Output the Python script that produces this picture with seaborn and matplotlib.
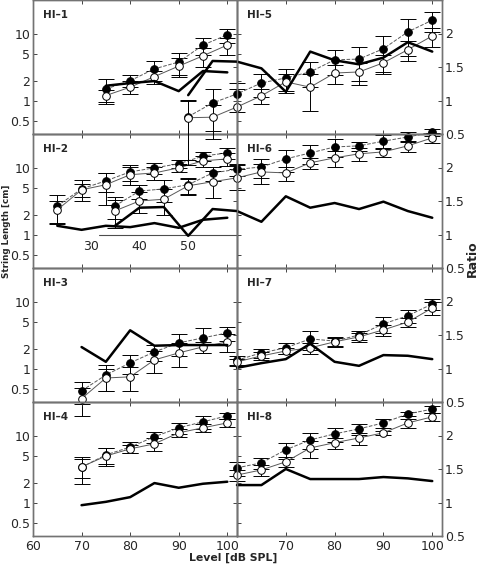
import matplotlib
matplotlib.use("Agg")
import matplotlib.pyplot as plt
from matplotlib.ticker import FixedLocator, FixedFormatter, NullLocator
import seaborn as sns

# levels (dB SPL) per panel
hi1_level = [75, 80, 85, 90, 95, 100]
hi2_level = [65, 70, 75, 80, 85, 90, 95, 100]
hi3_level = [70, 75, 80, 85, 90, 95, 100]
hi4_level = [70, 75, 80, 85, 90, 95, 100]
hi5_level = [50, 55, 60, 65, 70, 75, 80, 85, 90, 95, 100]
hi6_level = [35, 40, 45, 50, 55, 60, 65, 70, 75, 80, 85, 90, 95, 100]
hi7_level = [60, 65, 70, 75, 80, 85, 90, 95, 100]
hi8_level = [60, 65, 70, 75, 80, 85, 90, 95, 100]

# string length, filled symbols (dashed)
hi1_filled = [1.5, 2.0, 3.0, 3.8, 6.8, 9.7]
hi2_filled = [2.7, 4.85, 6.4, 8.7, 10, 11.5, 15, 16.7]
hi3_filled = [0.47, 0.81, 1.23, 1.79, 2.44, 2.9, 3.44]
hi4_filled = [3.4, 5.2, 6.8, 9.7, 13.2, 16.2, 19.9]
hi5_filled = [0.58, 0.93, 1.27, 1.85, 2.2, 2.7, 4.1, 4.2, 6.0, 10.7, 16]
hi6_filled = [2.7, 4.5, 4.85, 5.6, 8.4, 9.5, 10.3, 13.6, 16.7, 20.5, 21.3, 25, 28.9, 34]
hi7_filled = [1.35, 1.73, 2.06, 2.8, 2.6, 3.2, 4.7, 6.2, 9.3]
hi8_filled = [3.33, 3.95, 6.2, 8.7, 10.7, 12.7, 15.6, 21.3, 25]

hi1_filled_err = [0.6, 0.4, 1.0, 1.4, 2.0, 2.3]
hi2_filled_err = [1.25, 1.7, 2.0, 2.3, 1.9, 1.7, 2.3, 3.2]
hi3_filled_err = [0.17, 0.34, 0.4, 0.5, 0.9, 1.2, 0.8]
hi4_filled_err = [1.5, 1.4, 1.3, 1.8, 2.4, 3.7, 2.1]
hi5_filled_err = [0.45, 0.57, 0.6, 0.7, 0.8, 1.1, 1.7, 2.2, 3.3, 6.0, 5.4]
hi6_filled_err = [1.0, 1.1, 1.8, 1.5, 2.0, 2.0, 3.3, 5.0, 5.3, 6.0, 3.2, 5.6, 5.0, 4.0]
hi7_filled_err = [0.2, 0.26, 0.38, 0.9, 0.4, 0.5, 1.3, 1.4, 1.8]
hi8_filled_err = [0.8, 0.75, 1.7, 2.4, 2.5, 2.3, 2.4, 1.4, 3.0]

# string length, open symbols (solid)
hi1_open = [1.2, 1.6, 2.3, 3.3, 4.7, 6.8]
hi2_open = [2.36, 4.7, 5.6, 7.9, 8.4, 10, 12.7, 13.6]
hi3_open = [0.36, 0.73, 0.76, 1.36, 1.73, 2.13, 2.53]
hi4_open = [3.44, 5.0, 6.4, 7.6, 11.1, 13.2, 15.6]
hi5_open = [0.56, 0.57, 0.81, 1.19, 1.92, 1.6, 2.6, 2.7, 3.7, 5.8, 9.3]
hi6_open = [2.28, 3.2, 3.4, 5.4, 6.2, 7.1, 8.7, 8.4, 11.9, 14.1, 16.2, 17.3, 21.3, 28]
hi7_open = [1.27, 1.56, 1.85, 2.06, 2.53, 3.0, 3.82, 5.0, 8.1]
hi8_open = [2.6, 3.1, 4.1, 6.6, 7.9, 9.3, 11.1, 15.6, 19.2]

hi1_open_err = [0.25, 0.35, 0.5, 1.0, 1.5, 2.0]
hi2_open_err = [0.85, 1.0, 2.8, 2.3, 1.8, 1.3, 2.4, 2.9]
hi3_open_err = [0.16, 0.26, 0.3, 0.5, 0.66, 0.4, 0.74]
hi4_open_err = [1.1, 1.5, 0.8, 1.65, 1.4, 1.7, 2.0]
hi5_open_err = [0.45, 0.3, 0.7, 0.3, 0.6, 0.9, 0.8, 1.0, 1.2, 1.9, 3.0]
hi6_open_err = [1.0, 1.1, 1.45, 1.45, 2.7, 2.4, 2.9, 2.0, 2.2, 3.8, 3.5, 2.6, 4.0, 4.7]
hi7_open_err = [0.15, 0.2, 0.2, 0.4, 0.4, 0.45, 0.7, 0.8, 1.7]
hi8_open_err = [0.5, 0.6, 0.7, 1.9, 1.5, 1.9, 0.8, 2.4, 2.5]

# ratio (thick line, right axis)
hi1_ratio = [1.22, 1.26, 1.29, 1.14, 1.44, 1.42]
hi2_ratio = [1.13, 1.07, 1.13, 1.11, 1.17, 1.10, 1.22, 1.25]
hi3_ratio = [1.32, 1.10, 1.57, 1.34, 1.35, 1.35, 1.35]
hi4_ratio = [0.96, 1.01, 1.08, 1.29, 1.22, 1.28, 1.31]
hi5_ratio = [1.08, 1.59, 1.58, 1.48, 1.13, 1.73, 1.6, 1.54, 1.64, 1.87, 1.73]
hi6_ratio = [1.13, 1.40, 1.41, 0.98, 1.38, 1.35, 1.19, 1.57, 1.40, 1.47, 1.38, 1.49, 1.35, 1.25]
hi7_ratio = [1.01, 1.08, 1.14, 1.37, 1.10, 1.04, 1.20, 1.19, 1.14]
hi8_ratio = [1.26, 1.26, 1.50, 1.35, 1.35, 1.35, 1.38, 1.36, 1.32]

names = ["HI\u20131", "HI\u20132", "HI\u20133", "HI\u20134",
         "HI\u20135", "HI\u20136", "HI\u20137", "HI\u20138"]

log_ticks = [0.5, 1, 2, 5, 10]
log_labels = ["0.5", "1", "2", "5", "10"]
ratio_ticks = [0.5, 1, 1.5, 2]
ratio_labels = ["0.5", "1", "1.5", "2"]
level_ticks = [60, 70, 80, 90, 100]

panels = [
    (hi1_level, hi1_filled, hi1_filled_err, hi1_open, hi1_open_err, hi1_ratio),
    (hi2_level, hi2_filled, hi2_filled_err, hi2_open, hi2_open_err, hi2_ratio),
    (hi3_level, hi3_filled, hi3_filled_err, hi3_open, hi3_open_err, hi3_ratio),
    (hi4_level, hi4_filled, hi4_filled_err, hi4_open, hi4_open_err, hi4_ratio),
    (hi5_level, hi5_filled, hi5_filled_err, hi5_open, hi5_open_err, hi5_ratio),
    (hi6_level, hi6_filled, hi6_filled_err, hi6_open, hi6_open_err, hi6_ratio),
    (hi7_level, hi7_filled, hi7_filled_err, hi7_open, hi7_open_err, hi7_ratio),
    (hi8_level, hi8_filled, hi8_filled_err, hi8_open, hi8_open_err, hi8_ratio),
]

sns.set_style("ticks")
plt.rcParams["font.family"] = ["DejaVu Sans"]
plt.rcParams.update({
    "xtick.direction": "in", "ytick.direction": "in",
    "xtick.major.size": 3, "ytick.major.size": 3,
    "xtick.major.width": 0.6, "ytick.major.width": 0.6,
    "xtick.major.pad": 3, "ytick.major.pad": 2,
    "axes.linewidth": 1.0,
})

W, H = 480, 566
fig = plt.figure(figsize=(W / 100, H / 100), dpi=100)

def box(x0, y0, w, h):
    return [x0 / W, 1 - (y0 + h) / H, w / W, h / H]

col_x = [33, 237]
col_w = [204, 205]
row_y = [0, 134, 268, 402]
row_h = 134

axes = []
for i, (lev, fil, fil_e, opn, opn_e, rat) in enumerate(panels):
    col, row = i // 4, i % 4
    ax = fig.add_axes(box(col_x[col], row_y[row], col_w[col], row_h))
    ax.patch.set_visible(False)
    ax.set_yscale("log")

    for vals, errs in [(fil, fil_e), (opn, opn_e)]:
        eb = ax.errorbar(lev, vals, yerr=errs, fmt="none", ecolor="k",
                         elinewidth=0.7, capsize=5.5, capthick=0.7)
        for a in eb.get_children():
            a.set_clip_on(False)

    sns.lineplot(x=lev, y=fil, ax=ax, color="0.35", lw=0.7, ls="--",
                 marker="o", ms=5.5, mfc="k", mec="k", mew=0.7,
                 clip_on=False, zorder=3)
    sns.lineplot(x=lev, y=opn, ax=ax, color="0.35", lw=0.7,
                 marker="o", ms=5.5, mfc="w", mec="k", mew=0.7,
                 clip_on=False, zorder=4)

    ax.set_xlim(60, 102)
    ax.set_ylim(0.32, 32)
    ax.yaxis.set_major_locator(FixedLocator(log_ticks))
    ax.yaxis.set_major_formatter(FixedFormatter(log_labels))
    ax.yaxis.set_minor_locator(NullLocator())
    ax.set_xticks(level_ticks)
    ax.tick_params(axis="x", top=True, bottom=True, labelsize=9)
    ax.tick_params(axis="y", left=True, right=False, labelsize=9,
                   labelleft=(col == 0))
    if row == 3:
        if col == 0:
            ax.set_xticklabels([str(t) for t in level_ticks])
        else:
            ax.set_xticklabels([""] + [str(t) for t in level_ticks[1:]])
    else:
        ax.set_xticklabels([])
    ax.set_xlabel("")
    ax.set_ylabel("")
    for s in ax.spines.values():
        s.set_color("0.45")

    ax.text(0.049, 0.89, names[i], transform=ax.transAxes, fontsize=7.5,
            fontweight="bold", ha="left", va="center")

    ax2 = ax.twinx()
    ax2.patch.set_visible(False)
    sns.lineplot(x=lev, y=rat, ax=ax2, color="k", lw=1.8, clip_on=False)
    ax2.set_ylim(0.5, 2.5)
    ax2.yaxis.set_major_locator(FixedLocator(ratio_ticks))
    ax2.yaxis.set_major_formatter(FixedFormatter(ratio_labels))
    ax2.tick_params(axis="y", right=True, labelright=(col == 1),
                    labelsize=9)
    ax2.set_ylabel("")
    for s in ax2.spines.values():
        s.set_color("0.45")
    axes.append(ax)

# stray axis line drawn inside the HI-2 frame (belongs to HI-6 coordinates)
ax6 = axes[5]
ax6.plot([31.8, 60], [1, 1], color="0.3", lw=0.8, clip_on=False)
for t in [30, 40, 50]:
    ax6.text(t, 0.66, str(t), fontsize=9, ha="center", va="center",
             clip_on=False)

fig.text(7 / W, 1 - 231 / H, "String Length [cm]", rotation=90,
         ha="center", va="center", fontsize=6.3, fontweight="bold")
fig.text(472 / W, 1 - 259 / H, "Ratio", rotation=90,
         ha="center", va="center", fontsize=9, fontweight="bold")
fig.text(233 / W, 1 - 558 / H, "Level [dB SPL]",
         ha="center", va="center", fontsize=7.8, fontweight="bold")

fig.savefig("out.png", dpi=100)
